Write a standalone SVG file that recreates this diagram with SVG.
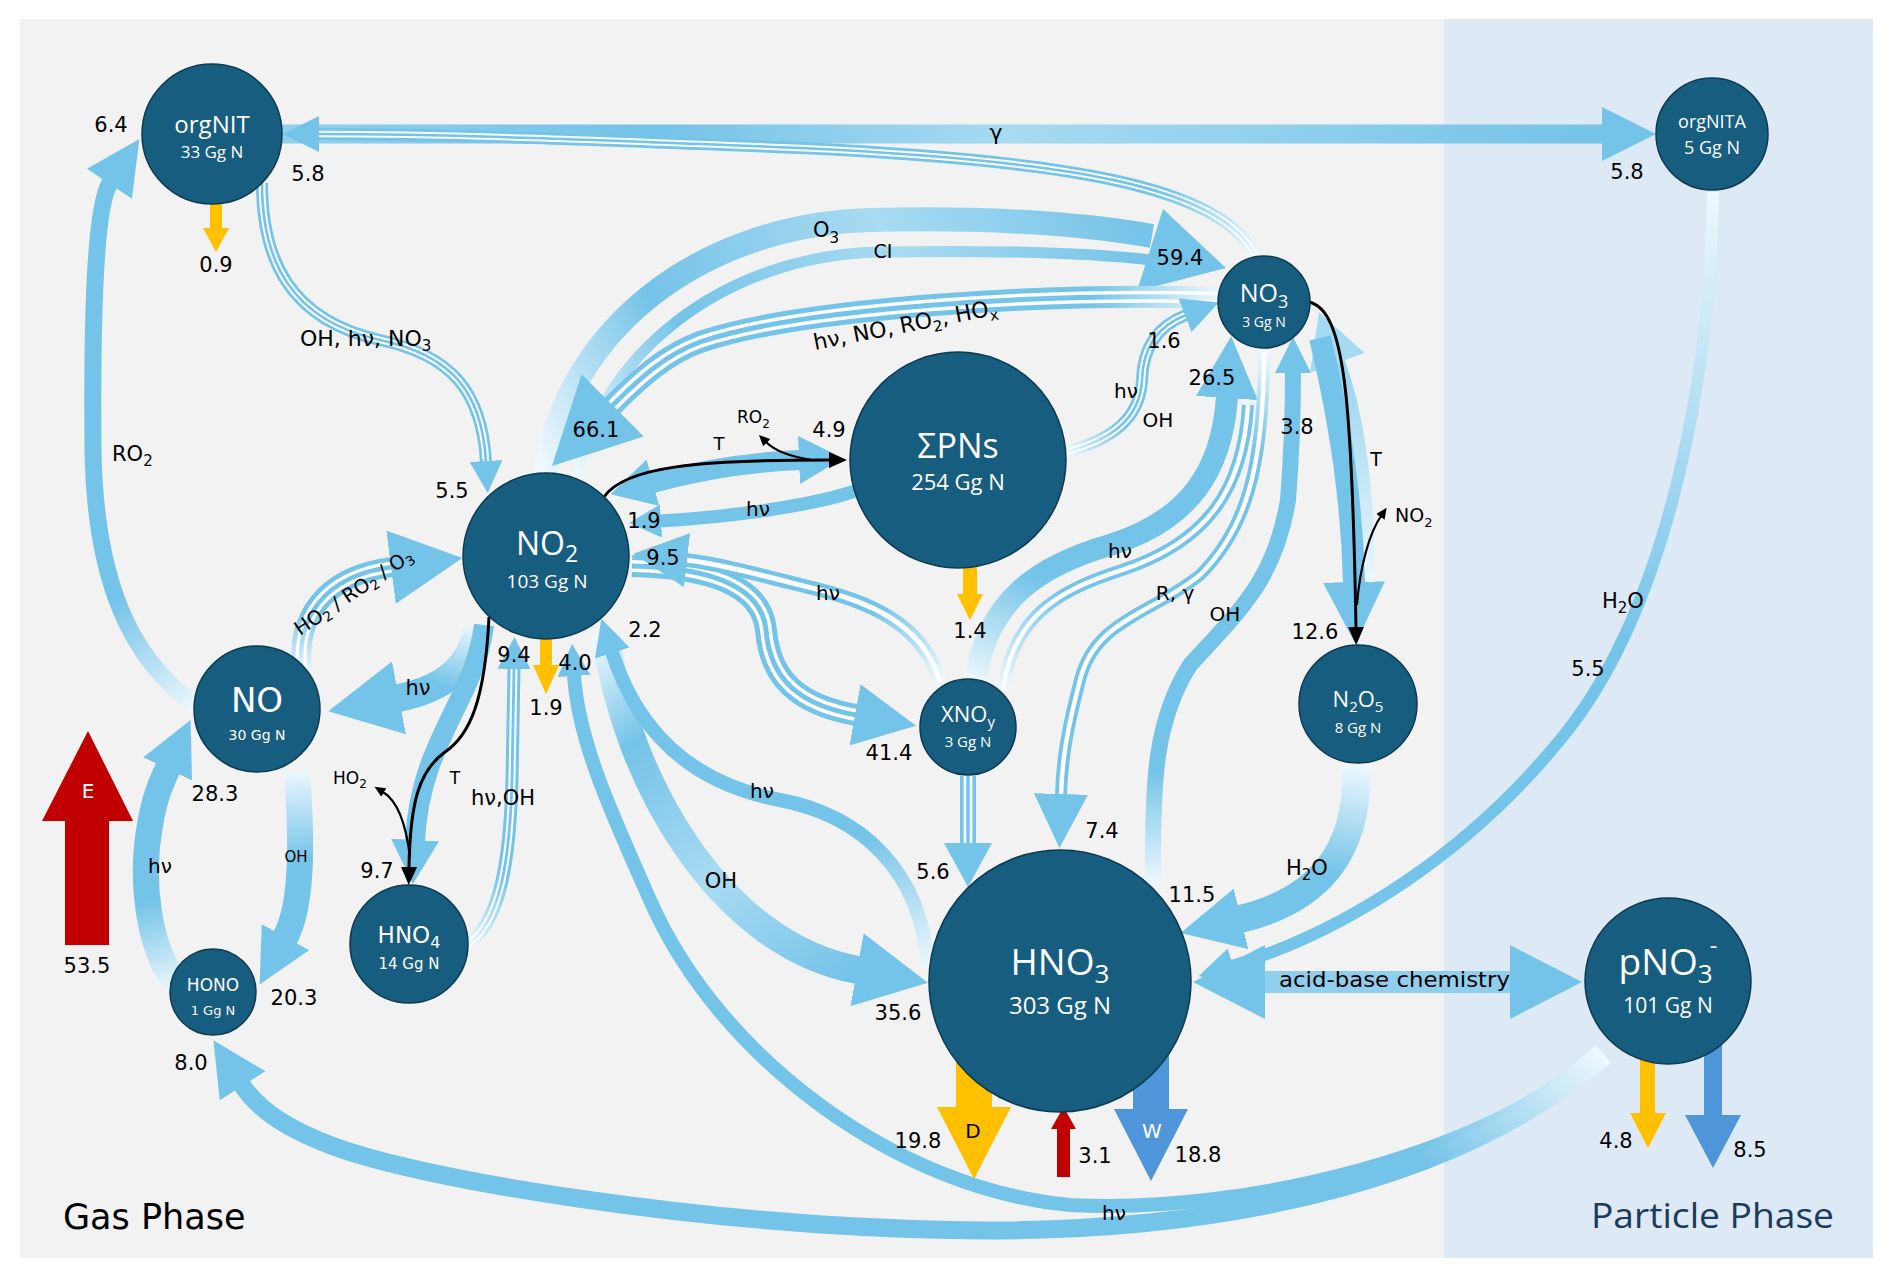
<svg xmlns="http://www.w3.org/2000/svg" width="1892" height="1278" viewBox="0 0 1892 1278">
<style>
.node{fill:#165d7f;stroke:#0c3a50;stroke-width:1.5}
.nt{fill:#fff;font-family:"Open Sans","Liberation Sans",sans-serif;text-anchor:middle}
.nv{fill:#fff;font-family:"DejaVu Sans","Liberation Sans",sans-serif;text-anchor:middle}
.lb{fill:#000;font-family:"DejaVu Sans","Liberation Sans",sans-serif}
.m{text-anchor:middle}
.c{fill:none}
.w{fill:none;stroke:#fbfdff}
.s{stroke:#74c3e8}
.k{fill:none;stroke:#000;stroke-width:3}
.k2{fill:none;stroke:#000;stroke-width:2.2}
.dep{fill:#ffc000}
.wet{fill:#4f95d9}
.emi{fill:#c00000}
.hd{fill:#74c3e8}
</style>
<defs>
<linearGradient id="fade"><stop offset="0" stop-color="#eef8fd"/><stop offset="1" stop-color="#74c3e8"/></linearGradient>
<linearGradient id="fade3"><stop offset="0" stop-color="#eef8fd"/><stop offset=".25" stop-color="#74c3e8"/><stop offset=".62" stop-color="#a9dbf2"/><stop offset="1" stop-color="#74c3e8"/></linearGradient>
<linearGradient id="gG" gradientUnits="userSpaceOnUse" x1="282" y1="0" x2="1602" y2="0"><stop offset="0" stop-color="#8fd0ee"/><stop offset=".28" stop-color="#74c3e8"/><stop offset=".55" stop-color="#a8daf2"/><stop offset="1" stop-color="#74c3e8"/></linearGradient>
<linearGradient id="gNO3org" href="#fade" gradientUnits="userSpaceOnUse" x1="1256" y1="258" x2="1160" y2="190"/>
<linearGradient id="gO3" href="#fade3" gradientUnits="userSpaceOnUse" x1="545" y1="476" x2="1150" y2="236"/>
<linearGradient id="gCI" href="#fade3" gradientUnits="userSpaceOnUse" x1="575" y1="478" x2="1150" y2="260"/>
<linearGradient id="g66" href="#fade" gradientUnits="userSpaceOnUse" x1="1222" y1="298" x2="1090" y2="300"/>
<linearGradient id="g16" href="#fade" gradientUnits="userSpaceOnUse" x1="1066" y1="455" x2="1125" y2="430"/>
<linearGradient id="g95" href="#fade" gradientUnits="userSpaceOnUse" x1="940" y1="682" x2="880" y2="605"/>
<linearGradient id="g26" href="#fade" gradientUnits="userSpaceOnUse" x1="975" y1="684" x2="1030" y2="575"/>
<linearGradient id="g26s" href="#fade" gradientUnits="userSpaceOnUse" x1="1003" y1="690" x2="1050" y2="585"/>
<linearGradient id="gRG" href="#fade" gradientUnits="userSpaceOnUse" x1="1264" y1="352" x2="1262" y2="450"/>
<linearGradient id="g38" href="#fade" gradientUnits="userSpaceOnUse" x1="1153" y1="885" x2="1155" y2="770"/>
<linearGradient id="gUp" gradientUnits="userSpaceOnUse" x1="1366" y1="590" x2="1345" y2="380"><stop offset="0" stop-color="#eef8fd"/><stop offset="1" stop-color="#9ed6f1"/></linearGradient>
<linearGradient id="gN2" href="#fade" gradientUnits="userSpaceOnUse" x1="1356" y1="765" x2="1335" y2="875"/>
<linearGradient id="g55" href="#fade" gradientUnits="userSpaceOnUse" x1="1713" y1="192" x2="1620" y2="640"/>
<linearGradient id="g35" href="#fade3" gradientUnits="userSpaceOnUse" x1="605" y1="632" x2="860" y2="970"/>
<linearGradient id="g22" href="#fade" gradientUnits="userSpaceOnUse" x1="928" y1="968" x2="885" y2="830"/>
<linearGradient id="gA" href="#fade" gradientUnits="userSpaceOnUse" x1="1600" y1="1050" x2="1440" y2="1170"/>
<linearGradient id="gB" href="#fade" gradientUnits="userSpaceOnUse" x1="1605" y1="1056" x2="1440" y2="1185"/>
<linearGradient id="gNN" href="#fade" gradientUnits="userSpaceOnUse" x1="478" y1="626" x2="452" y2="690"/>
<linearGradient id="gNoNo2" href="#fade" gradientUnits="userSpaceOnUse" x1="305" y1="675" x2="305" y2="610"/>
<linearGradient id="gHN" href="#fade" gradientUnits="userSpaceOnUse" x1="178" y1="990" x2="150" y2="900"/>
<linearGradient id="gNH" href="#fade" gradientUnits="userSpaceOnUse" x1="297" y1="770" x2="300" y2="860"/>
<linearGradient id="gRO2" href="#fade" gradientUnits="userSpaceOnUse" x1="197" y1="706" x2="105" y2="610"/>
<linearGradient id="g94" href="#fade" gradientUnits="userSpaceOnUse" x1="466" y1="946" x2="508" y2="880"/>
<marker id="hXL" markerUnits="userSpaceOnUse" markerWidth="86" markerHeight="88" refX="1" refY="44" orient="auto" viewBox="0 0 86 88"><path d="M0,0L86,44L0,88z" class="hd"/></marker>
<marker id="hL" markerUnits="userSpaceOnUse" markerWidth="72" markerHeight="74" refX="1" refY="37" orient="auto" viewBox="0 0 72 74"><path d="M0,0L72,37L0,74z" class="hd"/></marker>
<marker id="hLr" markerUnits="userSpaceOnUse" markerWidth="72" markerHeight="74" refX="1" refY="37" orient="auto-start-reverse" viewBox="0 0 72 74"><path d="M0,0L72,37L0,74z" class="hd"/></marker>
<marker id="hML" markerUnits="userSpaceOnUse" markerWidth="62" markerHeight="62" refX="1" refY="31" orient="auto" viewBox="0 0 62 62"><path d="M0,0L62,31L0,62z" class="hd"/></marker>
<marker id="hM" markerUnits="userSpaceOnUse" markerWidth="54" markerHeight="54" refX="1" refY="27" orient="auto" viewBox="0 0 54 54"><path d="M0,0L54,27L0,54z" class="hd"/></marker>
<marker id="hMl" markerUnits="userSpaceOnUse" markerWidth="54" markerHeight="58" refX="1" refY="29" orient="auto" viewBox="0 0 54 58"><path d="M0,0L54,29L0,58z" fill="#a6daf2"/></marker>
<marker id="hMS" markerUnits="userSpaceOnUse" markerWidth="44" markerHeight="48" refX="1" refY="24" orient="auto" viewBox="0 0 44 48"><path d="M0,0L44,24L0,48z" class="hd"/></marker>
<marker id="hMSr" markerUnits="userSpaceOnUse" markerWidth="44" markerHeight="48" refX="1" refY="24" orient="auto-start-reverse" viewBox="0 0 44 48"><path d="M0,0L44,24L0,48z" class="hd"/></marker>
<marker id="hS" markerUnits="userSpaceOnUse" markerWidth="36" markerHeight="36" refX="1" refY="18" orient="auto" viewBox="0 0 36 36"><path d="M0,0L36,18L0,36z" class="hd"/></marker>
<marker id="hXS" markerUnits="userSpaceOnUse" markerWidth="32" markerHeight="33" refX="1" refY="16.5" orient="auto" viewBox="0 0 32 33"><path d="M0,0L32,16.5L0,33z" class="hd"/></marker>
<marker id="hB" markerUnits="userSpaceOnUse" markerWidth="18" markerHeight="16" refX="1" refY="8" orient="auto" viewBox="0 0 18 16"><path d="M0,0L18,8L0,16z" fill="#000"/></marker>
<marker id="hBs" markerUnits="userSpaceOnUse" markerWidth="11" markerHeight="10" refX="1" refY="5" orient="auto" viewBox="0 0 11 10"><path d="M0,0L11,5L0,10z" fill="#000"/></marker>
</defs>

<rect x="0" y="0" width="1892" height="1278" fill="#ffffff"/>
<rect x="20" y="19" width="1424" height="1239" fill="#f2f2f2"/>
<rect x="1444" y="19" width="429" height="1239" fill="#dde9f5"/>

<g id="connectors">
<path class="c" d="M282,134 L1603,134" stroke="url(#gG)" stroke-width="19" marker-end="url(#hM)"/>
<path class="c" d="M1256,258 C1225,185 1060,160 800,148 C600,140 450,134 318,134" stroke="url(#gNO3org)" stroke-width="12"/>
<path class="w" d="M1256,258 C1225,185 1060,160 800,148 C600,140 450,134 318,134" stroke-width="6.6"/>
<path class="c" d="M1256,258 C1225,185 1060,160 800,148 C600,140 450,134 318,134" stroke="url(#gNO3org)" stroke-width="2.6" marker-end="url(#hS)"/>
<path class="c" d="M545,476 C565,330 700,225 870,220 C1000,217 1090,225 1152,236" stroke="url(#gO3)" stroke-width="24"/>
<path class="c" d="M577,478 C597,360 720,255 880,252 C1000,250 1090,253 1152,260" stroke="url(#gCI)" stroke-width="11"/>
<polygon class="hd" points="1163,209 1226,268 1137,291"/>
<path class="c" d="M1222,298 C1050,292 800,308 700,342 C665,355 640,378 612,406" stroke="url(#g66)" stroke-width="22"/>
<path class="w" d="M1222,298 C1050,292 800,308 700,342 C665,355 640,378 612,406" stroke-width="12"/>
<path class="c" d="M1222,298 C1050,292 800,308 700,342 C665,355 640,378 612,406" stroke="url(#g66)" stroke-width="5" marker-end="url(#hXL)"/>
<path class="c s" d="M652,483 C700,470 750,462 800,460" stroke-width="20" marker-start="url(#hMSr)" marker-end="url(#hMS)"/>
<path class="k" d="M604,497 C625,466 700,460 830,460" marker-end="url(#hB)"/>
<path class="k2" d="M812,460 C792,457 775,451 766,442" marker-end="url(#hBs)"/>
<path class="c s" d="M858,490 C815,505 740,516 660,521" stroke-width="13" marker-end="url(#hXS)"/>
<path class="c" d="M1066,452 C1110,440 1140,420 1142,380 C1143,345 1160,325 1186,315" stroke="url(#g16)" stroke-width="12"/>
<path class="w" d="M1066,452 C1110,440 1140,420 1142,380 C1143,345 1160,325 1186,315" stroke-width="6.6"/>
<path class="c" d="M1066,452 C1110,440 1140,420 1142,380 C1143,345 1160,325 1186,315" stroke="url(#g16)" stroke-width="2.6" marker-end="url(#hS)"/>
<path class="c s" d="M632,566 C720,568 762,590 766,630 C770,680 800,705 856,715" stroke-width="22"/>
<path class="w" d="M632,566 C720,568 762,590 766,630 C770,680 800,705 856,715" stroke-width="12"/>
<path class="c s" d="M632,566 C720,568 762,590 766,630 C770,680 800,705 856,715" stroke-width="5" marker-end="url(#hML)"/>
<path class="c" d="M940,682 C925,630 880,605 820,590 C760,575 720,564 686,560" stroke="url(#g95)" stroke-width="14"/>
<path class="w" d="M940,682 C925,630 880,605 820,590 C760,575 720,564 686,560" stroke-width="5" marker-end="url(#hM)"/>
<path class="c" d="M1003,690 C1013,615 1060,590 1122,570 C1207,542 1243,490 1248,405" stroke="url(#g26s)" stroke-width="12"/>
<path class="w" d="M1003,690 C1013,615 1060,590 1122,570 C1207,542 1243,490 1248,405" stroke-width="4.5"/>
<path class="c" d="M975,684 C985,600 1040,565 1110,545 C1190,520 1222,470 1227,397" stroke="url(#g26)" stroke-width="22" marker-end="url(#hML)"/>
<path class="c" d="M1264,350 C1264,470 1245,530 1200,575 C1150,615 1095,620 1080,680 C1067,730 1062,760 1061,795" stroke="url(#gRG)" stroke-width="12"/>
<path class="w" d="M1264,350 C1264,470 1245,530 1200,575 C1150,615 1095,620 1080,680 C1067,730 1062,760 1061,795" stroke-width="4.5" marker-end="url(#hM)"/>
<path class="c" d="M1153,885 C1152,780 1155,720 1190,665 C1240,610 1275,580 1288,500 C1292,450 1293,420 1293,372" stroke="url(#g38)" stroke-width="16" marker-end="url(#hS)"/>
<path class="c" d="M1366,590 C1368,500 1358,420 1337,362" stroke="url(#gUp)" stroke-width="16" marker-end="url(#hMl)"/>
<path class="c s" d="M1320,338 C1340,420 1352,500 1354,583" stroke-width="22" marker-end="url(#hML)"/>
<path class="k" d="M1309,302 C1345,310 1352,400 1356,628" marker-end="url(#hB)"/>
<path class="k2" d="M1357,605 C1360,565 1370,532 1381,516" marker-end="url(#hBs)"/>
<path class="c" d="M1356,765 C1360,850 1320,900 1240,919" stroke="url(#gN2)" stroke-width="28" marker-end="url(#hML)"/>
<path class="c" d="M1264,982 L1511,982" stroke="#8fcfed" stroke-width="22" marker-start="url(#hLr)" marker-end="url(#hL)"/>
<path class="c" d="M1713,192 C1710,400 1660,620 1560,740 C1470,850 1350,930 1232,966" stroke="url(#g55)" stroke-width="12" marker-end="url(#hS)"/>
<path class="c" d="M605,632 C625,780 720,945 858,970" stroke="url(#g35)" stroke-width="28" marker-end="url(#hL)"/>
<path class="c" d="M928,968 C922,870 860,815 780,800 C700,785 640,740 612,652" stroke="url(#g22)" stroke-width="14" marker-end="url(#hS)"/>
<path class="c" d="M1600,1050 C1500,1150 1250,1215 1070,1205 C900,1190 720,1060 650,900 C610,810 578,740 574,675" stroke="url(#gA)" stroke-width="14" marker-end="url(#hXS)"/>
<path class="c" d="M1605,1056 C1450,1190 1200,1235 950,1230 C700,1225 420,1180 330,1145 C290,1130 258,1110 242,1085" stroke="url(#gB)" stroke-width="18" marker-end="url(#hM)"/>
<path class="c" d="M478,628 C470,670 440,690 398,698" stroke="url(#gNN)" stroke-width="28" marker-end="url(#hL)"/>
<path class="c" d="M302,670 C296,620 322,576 392,567" stroke="url(#gNoNo2)" stroke-width="20"/>
<path class="w" d="M302,670 C296,620 322,576 392,567" stroke-width="11"/>
<path class="c" d="M302,670 C296,620 322,576 392,567" stroke="url(#gNoNo2)" stroke-width="4.4" marker-end="url(#hL)"/>
<path class="c" d="M178,985 C148,950 140,880 150,825 C154,800 160,785 168,768" stroke="url(#gHN)" stroke-width="26" marker-end="url(#hM)"/>
<path class="c" d="M297,772 C302,840 303,905 285,938" stroke="url(#gNH)" stroke-width="26" marker-end="url(#hM)"/>
<path class="c" d="M197,706 C130,660 95,580 93,450 C92,330 94,207 110,183" stroke="url(#gRO2)" stroke-width="17" marker-end="url(#hM)"/>
<path class="c s" d="M262,183 C262,260 290,320 380,340 C450,355 482,390 486,462" stroke-width="12"/>
<path class="w" d="M262,183 C262,260 290,320 380,340 C450,355 482,390 486,462" stroke-width="6.6"/>
<path class="c s" d="M262,183 C262,260 290,320 380,340 C450,355 482,390 486,462" stroke-width="2.6" marker-end="url(#hXS)"/>
<path class="c s" d="M484,625 C475,700 420,740 415,841" stroke-width="20" marker-end="url(#hMS)"/>
<path class="k" d="M489,617 C485,700 470,735 445,752 C420,770 410,800 409,868" marker-end="url(#hB)"/>
<path class="k2" d="M410,858 C406,822 396,800 383,792" marker-end="url(#hBs)"/>
<path class="c" d="M466,945 C500,925 510,860 512,780 L514,668" stroke="url(#g94)" stroke-width="13"/>
<path class="w" d="M466,945 C500,925 510,860 512,780 L514,668" stroke-width="7"/>
<path class="c" d="M466,945 C500,925 510,860 512,780 L514,668" stroke="url(#g94)" stroke-width="2.8" marker-end="url(#hXS)"/>
<path class="c s" d="M968,776 L968,844" stroke-width="16"/>
<path class="w" d="M968,776 L968,844" stroke-width="8.8"/>
<path class="c s" d="M968,776 L968,844" stroke-width="3.5" marker-end="url(#hMS)"/>
</g>

<g id="fluxes">
<path class="dep" d="M210,204 H222 V228 H229 L216,252 L203,228 H210 Z"/>
<path class="dep" d="M540,636 H552 V665 H559 L546,694 L533,665 H540 Z"/>
<path class="dep" d="M963,566 H977 V594 H983 L970,620 L957,594 H963 Z"/>
<path class="dep" d="M956,1050 H992 V1107 H1011 L974,1179 L937,1107 H956 Z"/>
<path class="wet" d="M1133,1040 H1169 V1109 H1188 L1151,1181 L1114,1109 H1133 Z"/>
<path class="emi" d="M1057,1177 V1129 H1051 L1063.5,1107 L1076,1129 H1070 V1177 Z"/>
<path class="dep" d="M1640,1055 H1655 V1113 H1666 L1648,1148 L1630,1113 H1640 Z"/>
<path class="wet" d="M1704,1045 H1722 V1115 H1741 L1713,1168 L1685,1115 H1704 Z"/>
<path class="emi" d="M65,945 V821 H42 L88,731 L133,821 H109 V945 Z"/>
</g>

<g id="n-orgNIT"><circle class="node" cx="212" cy="134" r="70"/><text class="nt" x="212" y="133" font-size="24">orgNIT</text><text class="nt" x="212" y="158" font-size="17">33 Gg N</text></g>
<g id="n-orgNITA"><circle class="node" cx="1712" cy="134" r="56"/><text class="nt" x="1712" y="128" font-size="18">orgNITA</text><text class="nt" x="1712" y="154" font-size="18">5 Gg N</text></g>
<g id="n-NO3"><circle class="node" cx="1264" cy="302" r="46"/><text class="nt" x="1264" y="302" font-size="25">NO<tspan dy="6" font-size="18">3</tspan></text><text class="nt" x="1264" y="327" font-size="14">3 Gg N</text></g>
<g id="n-PNs"><circle class="node" cx="958" cy="460" r="108"/><text class="nt" x="958" y="458" font-size="34">ΣPNs</text><text class="nt" x="958" y="490" font-size="22">254 Gg N</text></g>
<g id="n-NO2"><circle class="node" cx="546" cy="556" r="83"/><text class="nt" x="547" y="555" font-size="32">NO<tspan dy="7" font-size="23">2</tspan></text><text class="nt" x="547" y="588" font-size="19">103 Gg N</text></g>
<g id="n-NO"><circle class="node" cx="257" cy="709" r="63"/><text class="nv" x="257" y="712" font-size="34">NO</text><text class="nv" x="257" y="740" font-size="14">30 Gg N</text></g>
<g id="n-HONO"><circle class="node" cx="213" cy="992" r="43"/><text class="nv" x="213" y="991" font-size="17">HONO</text><text class="nv" x="213" y="1015" font-size="13">1 Gg N</text></g>
<g id="n-HNO4"><circle class="node" cx="409" cy="944" r="59"/><text class="nv" x="409" y="943" font-size="23">HNO<tspan dy="5" font-size="16">4</tspan></text><text class="nv" x="409" y="969" font-size="15">14 Gg N</text></g>
<g id="n-XNOy"><circle class="node" cx="968" cy="727" r="48"/><text class="nt" x="968" y="722" font-size="22">XNO<tspan dy="5" font-size="15">y</tspan></text><text class="nt" x="968" y="747" font-size="15">3 Gg N</text></g>
<g id="n-N2O5"><circle class="node" cx="1358" cy="704" r="59"/><text class="nt" x="1358" y="707" font-size="22">N<tspan dy="5" font-size="15">2</tspan><tspan dy="-5">O</tspan><tspan dy="5" font-size="15">5</tspan></text><text class="nt" x="1358" y="733" font-size="15">8 Gg N</text></g>
<g id="n-HNO3"><circle class="node" cx="1060" cy="981" r="131"/><text class="nt" x="1060" y="975" font-size="37">HNO<tspan dy="8" font-size="26">3</tspan></text><text class="nt" x="1060" y="1014" font-size="24">303 Gg N</text></g>
<g id="n-pNO3"><circle class="node" cx="1668" cy="981" r="83"/><text class="nt" x="1668" y="975" font-size="37">pNO<tspan dy="8" font-size="26">3</tspan><tspan dx="-3" dy="-29" font-size="24">-</tspan></text><text class="nt" x="1668" y="1013" font-size="21">101 Gg N</text></g>

<g id="labels" font-size="21">
<text class="lb m" x="111" y="132">6.4</text>
<text class="lb m" x="308" y="181">5.8</text>
<text class="lb m" x="216" y="272">0.9</text>
<text class="lb m" x="452" y="498">5.5</text>
<text class="lb m" x="596" y="437">66.1</text>
<text class="lb m" x="829" y="437">4.9</text>
<text class="lb m" x="644" y="528">1.9</text>
<text class="lb m" x="663" y="565">9.5</text>
<text class="lb m" x="645" y="637">2.2</text>
<text class="lb m" x="514" y="662">9.4</text>
<text class="lb m" x="575" y="670">4.0</text>
<text class="lb m" x="546" y="715">1.9</text>
<text class="lb m" x="1180" y="265">59.4</text>
<text class="lb m" x="1164" y="348">1.6</text>
<text class="lb m" x="1212" y="385">26.5</text>
<text class="lb m" x="1297" y="434">3.8</text>
<text class="lb m" x="1315" y="639">12.6</text>
<text class="lb m" x="1627" y="179">5.8</text>
<text class="lb m" x="1588" y="676">5.5</text>
<text class="lb m" x="970" y="638">1.4</text>
<text class="lb m" x="889" y="760">41.4</text>
<text class="lb m" x="933" y="879">5.6</text>
<text class="lb m" x="898" y="1020">35.6</text>
<text class="lb m" x="1102" y="838">7.4</text>
<text class="lb m" x="1192" y="902">11.5</text>
<text class="lb m" x="215" y="801">28.3</text>
<text class="lb m" x="87" y="973">53.5</text>
<text class="lb m" x="294" y="1005">20.3</text>
<text class="lb m" x="191" y="1070">8.0</text>
<text class="lb m" x="377" y="878">9.7</text>
<text class="lb m" x="918" y="1148">19.8</text>
<text class="lb m" x="1095" y="1163">3.1</text>
<text class="lb m" x="1198" y="1162">18.8</text>
<text class="lb m" x="1616" y="1148">4.8</text>
<text class="lb m" x="1750" y="1157">8.5</text>

<text class="lb m" x="996" y="140" font-size="22">γ</text>
<text class="lb" x="813" y="237">O<tspan dy="6" font-size="15">3</tspan></text>
<text class="lb m" x="883" y="258" font-size="19">CI</text>
<text class="lb" x="300" y="346" font-size="22">OH, hν, NO<tspan dy="5" font-size="15">3</tspan></text>
<text class="lb" x="112" y="461">RO<tspan dy="5" font-size="15">2</tspan></text>
<text class="lb" x="737" y="423" font-size="17">RO<tspan dy="5" font-size="12">2</tspan></text>
<text class="lb m" x="719" y="450" font-size="18">T</text>
<text class="lb" x="815" y="350" font-size="22" transform="rotate(-11 815 350)">hν, NO, RO<tspan dy="5" font-size="15">2</tspan><tspan dy="-5">, HO</tspan><tspan dy="5" font-size="15">x</tspan></text>
<text class="lb m" x="758" y="516" font-size="20">hν</text>
<text class="lb m" x="1126" y="398" font-size="20">hν</text>
<text class="lb m" x="1158" y="427" font-size="20">OH</text>
<text class="lb m" x="828" y="600" font-size="20">hν</text>
<text class="lb m" x="1120" y="558" font-size="20">hν</text>
<text class="lb m" x="1175" y="600" font-size="20">R, γ</text>
<text class="lb m" x="1225" y="621" font-size="20">OH</text>
<text class="lb m" x="1376" y="466" font-size="19">T</text>
<text class="lb" x="1395" y="522" font-size="19">NO<tspan dy="5" font-size="13">2</tspan></text>
<text class="lb m" x="762" y="798" font-size="20">hν</text>
<text class="lb m" x="721" y="888">OH</text>
<text class="lb" x="300" y="636" font-size="19.5" transform="rotate(-34 300 636)">HO<tspan dy="4" font-size="13.5">2</tspan><tspan dy="-4"> / RO</tspan><tspan dy="4" font-size="13.5">2</tspan><tspan dy="-4"> / O</tspan><tspan dy="4" font-size="13.5">3</tspan></text>
<text class="lb m" x="418" y="695">hν</text>
<text class="lb m" x="160" y="873" font-size="20">hν</text>
<text class="lb m" x="296" y="862" font-size="15">OH</text>
<text class="lb m" x="88" y="798" font-size="20" style="fill:#fff">E</text>
<text class="lb" x="333" y="784" font-size="17">HO<tspan dy="4" font-size="12">2</tspan></text>
<text class="lb m" x="455" y="784" font-size="17">T</text>
<text class="lb" x="471" y="805" font-size="21">hν,OH</text>
<text class="lb" x="1602" y="608">H<tspan dy="5" font-size="15">2</tspan><tspan dy="-5">O</tspan></text>
<text class="lb" x="1286" y="875">H<tspan dy="5" font-size="15">2</tspan><tspan dy="-5">O</tspan></text>
<text class="lb" x="1279" y="987" font-size="22" textLength="231" lengthAdjust="spacingAndGlyphs">acid-base chemistry</text>
<text class="lb m" x="1114" y="1220" font-size="20">hν</text>
<text class="lb m" x="973" y="1138" font-size="20">D</text>
<text class="lb m" x="1152" y="1138" font-size="20" style="fill:#fff">W</text>
<text class="lb" x="63" y="1229" font-size="35">Gas Phase</text>
<text x="1591" y="1228" font-size="35" fill="#1b3a5c" font-family="Open Sans, Liberation Sans, sans-serif" textLength="243" lengthAdjust="spacingAndGlyphs">Particle Phase</text>
</g>
</svg>
